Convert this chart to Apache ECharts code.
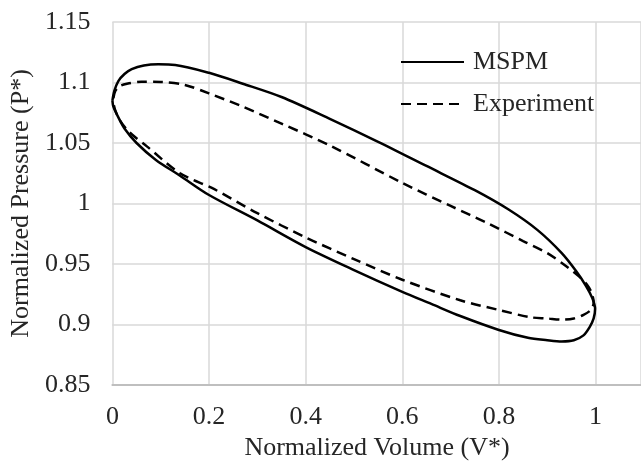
<!DOCTYPE html>
<html>
<head>
<meta charset="utf-8">
<script src="https://cdn.jsdelivr.net/npm/echarts@6/dist/echarts.min.js"></script>
<style>
  html, body { margin: 0; padding: 0; background: #fff; }
  #main { width: 641px; height: 464px; }
</style>
</head>
<body>
<div id="main"></div>
<script>
// loop traced clockwise: upper branch left -> right, then lower branch back
var mspmV = [0, 0.004, 0.012, 0.025, 0.04, 0.065, 0.095, 0.13, 0.2, 0.27, 0.35, 0.45, 0.55, 0.65, 0.75, 0.82, 0.88, 0.93, 0.96, 0.98, 0.993, 0.999,
             0.996, 0.988, 0.975, 0.955, 0.93, 0.9, 0.86, 0.8, 0.72, 0.66, 0.6, 0.5, 0.4, 0.3, 0.2, 0.14, 0.09, 0.05, 0.025, 0.01, 0.002, 0];
var mspmP = [1.085, 1.093, 1.101, 1.107, 1.111, 1.114, 1.115, 1.1145, 1.108, 1.099, 1.088, 1.07, 1.051, 1.031, 1.011, 0.995, 0.978, 0.959, 0.944, 0.932, 0.922, 0.913,
             0.905, 0.898, 0.891, 0.887, 0.886, 0.887, 0.889, 0.8955, 0.907, 0.917, 0.927, 0.945, 0.964, 0.986, 1.007, 1.023, 1.036, 1.05, 1.062, 1.073, 1.08, 1.085];

var expV = [0.002, 0.006, 0.015, 0.03, 0.06, 0.1, 0.15, 0.2, 0.27, 0.35, 0.45, 0.6, 0.7, 0.78, 0.85, 0.9, 0.94, 0.965, 0.982, 0.992, 0.996,
            0.99, 0.975, 0.955, 0.93, 0.9, 0.865, 0.8, 0.72, 0.6, 0.5, 0.4, 0.3, 0.21, 0.14, 0.072, 0.035, 0.015, 0.006, 0.002];
var expP = [1.087, 1.093, 1.097, 1.099, 1.1007, 1.1005, 1.098, 1.091, 1.08, 1.066, 1.048, 1.017, 0.998, 0.983, 0.969, 0.959, 0.948, 0.94, 0.933, 0.926, 0.918,
            0.912, 0.908, 0.905, 0.904, 0.905, 0.906, 0.912, 0.92, 0.937, 0.954, 0.972, 0.992, 1.012, 1.025, 1.047, 1.059, 1.069, 1.077, 1.083];

var seriesNames = ['MSPM', 'Experiment'];

function zip(a, b) {
    var out = [];
    for (var i = 0; i < a.length; i++) out.push([a[i], b[i]]);
    return out;
}

var font = '"Liberation Serif", "Times New Roman", serif';
var txt = '#262626';
var fs = 26;

var myChart = echarts.init(document.getElementById('main'));
var option = {
    animation: false,
    // plot area runs off the right edge of the picture (axis continues past 1)
    grid: { left: 112, top: 22, right: 0, bottom: 79 },
    legend: {
        orient: 'vertical',
        left: 395,
        top: 42,
        itemWidth: 63,
        itemHeight: 14,
        itemGap: 12,
        itemStyle: { opacity: 0 },
        textStyle: { fontFamily: font, fontSize: fs, color: txt, lineHeight: 30, padding: [0, 0, 0, 4] },
        data: seriesNames
    },
    xAxis: {
        type: 'value',
        min: 0,
        max: 1.094,
        interval: 0.2,
        axisLine: { show: true, lineStyle: { color: '#bfbfbf', width: 2 } },
        axisTick: { show: false },
        splitLine: { show: true, lineStyle: { color: '#d9d9d9', width: 1.5 } },
        axisLabel: {
            margin: 19,
            fontFamily: font, fontSize: fs, color: txt,
            showMaxLabel: false,
            formatter: function (v) { return v > 1.05 ? '' : String(+v.toFixed(1)); }
        }
    },
    yAxis: {
        type: 'value',
        min: 0.85,
        max: 1.15,
        interval: 0.05,
        name: 'Normalized Pressure (P*)',
        nameLocation: 'middle',
        nameGap: 75,
        nameTextStyle: { fontFamily: font, fontSize: fs, color: txt },
        axisLine: { show: false },
        axisTick: { show: false },
        splitLine: { show: true, lineStyle: { color: '#d9d9d9', width: 1.5 } },
        axisLabel: {
            margin: 22,
            fontFamily: font, fontSize: fs, color: txt,
            formatter: function (v) { return String(+v.toFixed(2)); }
        }
    },
    graphic: [{
        type: 'text',
        x: 377,
        y: 448,
        style: {
            text: 'Normalized Volume (V*)',
            font: fs + 'px ' + font,
            fill: txt,
            align: 'center',
            verticalAlign: 'middle'
        }
    }],
    series: [{
        name: seriesNames[0],
        type: 'line',
        data: zip(mspmV, mspmP),
        symbol: 'none',
        smooth: 0.3,
        lineStyle: { color: '#000', width: 2.5, type: 'solid' },
        itemStyle: { color: '#000' }
    }, {
        name: seriesNames[1],
        type: 'line',
        data: zip(expV, expP),
        symbol: 'none',
        smooth: 0.3,
        lineStyle: { color: '#000', width: 2.5, type: [10, 6] },
        itemStyle: { color: '#000' }
    }]
};
myChart.setOption(option);
</script>
</body>
</html>
